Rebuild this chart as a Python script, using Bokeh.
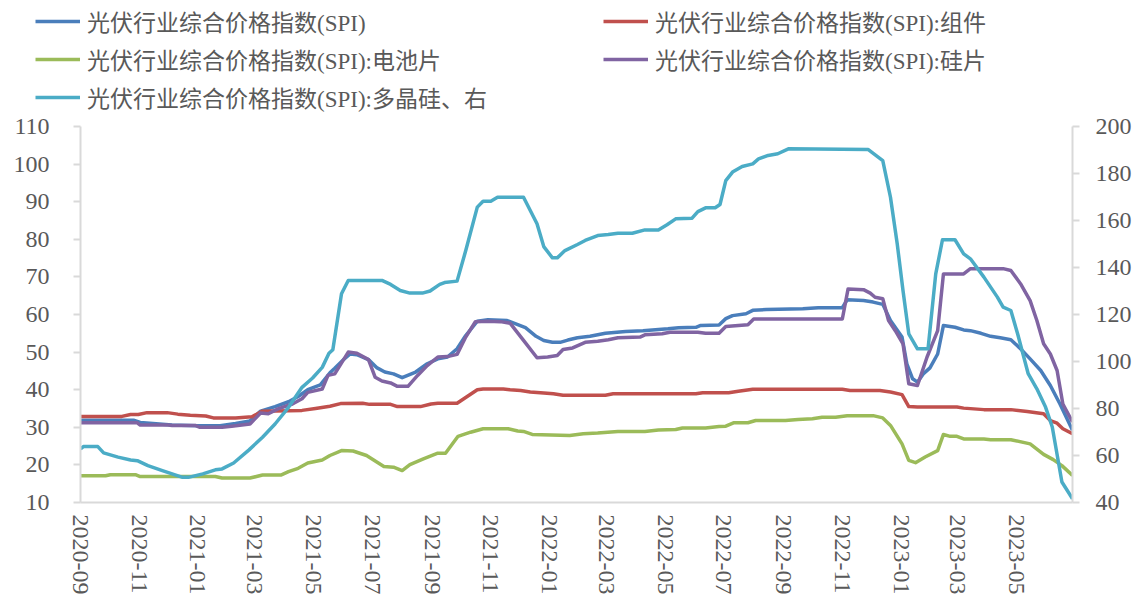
import pandas as pd
from bokeh.plotting import figure
from bokeh.layouts import column
from bokeh.models import (Range1d, LinearAxis, Legend, LegendItem, FixedTicker,
                          DatetimeTickFormatter, SingleIntervalTicker)
from bokeh.embed import file_html
from bokeh.resources import INLINE

# ---------------- data ----------------
spi_dates = ["2020-09-01","2020-10-26","2020-11-02","2020-12-05","2021-01-01","2021-01-24","2021-02-09",
             "2021-02-24","2021-03-07","2021-03-22","2021-04-05","2021-04-15","2021-04-25","2021-05-08",
             "2021-05-18","2021-05-23","2021-06-01","2021-06-08","2021-06-15","2021-06-27","2021-07-06",
             "2021-07-14","2021-07-23","2021-08-01","2021-08-15","2021-08-27","2021-09-07","2021-09-17",
             "2021-09-27","2021-10-06","2021-10-18","2021-10-29","2021-11-18","2021-11-27","2021-12-07",
             "2021-12-18","2021-12-26","2022-01-04","2022-01-12","2022-01-20","2022-01-30","2022-02-12",
             "2022-02-28","2022-03-21","2022-04-08","2022-05-04","2022-05-15","2022-06-02","2022-06-07",
             "2022-06-26","2022-07-03","2022-07-10","2022-07-24","2022-07-31","2022-08-14","2022-09-21",
             "2022-10-07","2022-11-01","2022-11-06","2022-11-23","2022-12-03","2022-12-13","2022-12-21",
             "2023-01-02","2023-01-07","2023-01-13","2023-01-18","2023-01-24","2023-01-31","2023-02-08",
             "2023-02-14","2023-02-26","2023-03-07","2023-03-14","2023-03-25","2023-04-04","2023-04-14",
             "2023-04-25","2023-05-05","2023-05-15","2023-05-26","2023-06-05","2023-06-15","2023-06-28"]
spi_vals = [31.9,31.9,31.3,30.6,30.4,30.4,31.0,
            31.7,34.3,35.5,36.8,38.2,40.0,41.3,
            44.5,45.7,48.0,49.5,49.3,48.0,45.8,
            44.7,44.2,43.2,44.7,46.9,48.2,48.7,
            50.9,54.4,58.2,58.6,58.4,57.5,56.5,
            54.2,53.1,52.6,52.6,53.2,53.8,54.2,
            55.0,55.5,55.7,56.2,56.5,56.6,57.1,
            57.2,58.9,59.7,60.2,61.1,61.3,61.5,
            61.8,61.8,63.9,63.7,63.3,62.7,58.4,
            54.0,46.9,42.9,42.0,44.2,45.8,49.5,
            57.1,56.6,55.9,55.7,55.0,54.2,53.8,
            53.3,50.9,48.2,45.1,41.1,36.2,29.2]

module_dates = ["2020-09-01","2020-10-14","2020-10-23","2020-10-31","2020-11-09","2020-11-30","2020-12-11",
                "2020-12-24","2021-01-09","2021-01-17","2021-02-09","2021-02-26","2021-03-09","2021-04-19",
                "2021-05-03","2021-05-18","2021-05-29","2021-06-21","2021-06-28","2021-07-20","2021-07-27",
                "2021-08-20","2021-08-31","2021-09-07","2021-09-27","2021-10-18","2021-10-24","2021-11-14",
                "2021-11-21","2021-12-02","2021-12-12","2021-12-26","2022-01-05","2022-01-15","2022-02-28",
                "2022-03-08","2022-06-02","2022-06-09","2022-07-06","2022-07-16","2022-07-31","2022-11-01",
                "2022-11-09","2022-12-10","2022-12-21","2023-01-02","2023-01-09","2023-01-18","2023-02-28",
                "2023-03-07","2023-03-28","2023-04-25","2023-05-12","2023-05-29","2023-06-05","2023-06-12",
                "2023-06-18","2023-06-28"]
module_vals = [32.9,32.9,33.4,33.4,33.9,33.9,33.5,
               33.2,33.0,32.5,32.5,32.8,34.3,34.5,
               35.0,35.6,36.3,36.4,36.1,36.1,35.5,
               35.5,36.2,36.4,36.4,40.0,40.2,40.2,
               40.0,39.8,39.4,39.1,38.9,38.5,38.5,
               38.9,38.9,39.2,39.2,39.6,40.1,40.1,
               39.8,39.8,39.4,38.7,35.5,35.4,35.4,
               35.1,34.7,34.7,34.2,33.6,31.8,31.1,
               29.6,28.3]

cell_dates = ["2020-09-01","2020-09-27","2020-10-02","2020-10-28","2020-11-02","2021-01-19","2021-01-26",
              "2021-02-24","2021-03-09","2021-03-28","2021-04-05","2021-04-15","2021-04-25","2021-05-10",
              "2021-05-18","2021-05-30","2021-06-11","2021-06-25","2021-07-13","2021-07-23","2021-08-01",
              "2021-08-09","2021-08-23","2021-09-07","2021-09-15","2021-09-28","2021-10-11","2021-10-24",
              "2021-11-19","2021-11-29","2021-12-05","2021-12-14","2022-01-22","2022-02-05","2022-02-20",
              "2022-03-13","2022-04-10","2022-04-24","2022-05-12","2022-05-19","2022-06-12","2022-06-26",
              "2022-07-03","2022-07-11","2022-07-26","2022-08-03","2022-09-03","2022-09-16","2022-10-01",
              "2022-10-11","2022-10-25","2022-11-06","2022-12-03","2022-12-13","2022-12-21","2023-01-02",
              "2023-01-09","2023-01-16","2023-01-26","2023-02-08","2023-02-14","2023-02-21","2023-02-28",
              "2023-03-07","2023-03-28","2023-04-04","2023-04-25","2023-05-15","2023-05-29","2023-06-08",
              "2023-06-17","2023-06-28"]
cell_vals = [17.1,17.1,17.4,17.4,16.9,16.9,16.5,
             16.5,17.3,17.3,18.2,19.1,20.5,21.3,
             22.5,23.8,23.7,22.5,19.6,19.4,18.5,
             20.1,21.6,23.1,23.1,27.6,28.7,29.6,
             29.6,29.0,28.9,28.1,27.8,28.3,28.5,
             28.9,28.9,29.3,29.4,29.8,29.8,30.2,
             30.3,31.2,31.2,31.8,31.8,32.1,32.3,
             32.7,32.7,33.1,33.1,32.5,30.5,25.6,
             21.2,20.6,22.1,23.8,28.1,27.6,27.6,
             26.9,26.9,26.7,26.7,25.6,22.8,21.4,
             19.8,17.2]

wafer_dates = ["2020-09-01","2020-10-30","2020-11-02","2020-12-01","2020-12-05","2020-12-29","2021-01-03",
               "2021-01-26","2021-02-05","2021-02-24","2021-03-07","2021-03-15","2021-03-25","2021-04-09",
               "2021-04-19","2021-04-25","2021-05-10","2021-05-16","2021-05-23","2021-06-06","2021-06-15",
               "2021-06-27","2021-07-04","2021-07-11","2021-07-20","2021-07-27","2021-08-07","2021-08-17",
               "2021-08-27","2021-09-07","2021-09-17","2021-09-27","2021-10-06","2021-10-16","2021-10-29",
               "2021-11-11","2021-11-21","2021-12-05","2021-12-19","2021-12-30","2022-01-09","2022-01-15",
               "2022-01-25","2022-02-07","2022-02-20","2022-03-03","2022-03-13","2022-04-05","2022-04-10",
               "2022-04-28","2022-05-06","2022-06-04","2022-06-12","2022-06-26","2022-07-03","2022-07-26",
               "2022-08-01","2022-11-01","2022-11-07","2022-11-23","2022-11-30","2022-12-05","2022-12-13",
               "2022-12-19","2022-12-26","2023-01-03","2023-01-09","2023-01-18","2023-01-28","2023-02-08",
               "2023-02-14","2023-03-07","2023-03-14","2023-04-17","2023-04-25","2023-05-05","2023-05-15",
               "2023-05-22","2023-05-29","2023-06-05","2023-06-12","2023-06-18","2023-06-28"]
wafer_vals = [31.2,31.2,30.6,30.6,30.5,30.5,30.0,
              30.0,30.3,30.9,33.8,33.6,34.9,36.2,
              37.6,39.3,40.2,43.8,44.2,50.0,49.7,
              48.0,43.3,42.3,41.8,40.9,40.9,43.8,
              46.4,48.7,48.8,49.4,54.0,58.1,58.2,
              58.1,57.7,53.1,48.5,48.7,49.1,50.7,
              51.1,52.6,52.9,53.3,53.8,54.0,54.6,
              54.9,55.3,55.3,55.0,55.0,56.8,57.3,
              58.8,58.8,66.8,66.6,65.7,64.6,64.2,
              58.4,55.7,52.2,41.6,41.1,48.7,55.7,
              70.8,70.8,72.2,72.2,71.7,68.2,63.7,
              58.4,52.2,49.5,45.1,36.2,31.4]

poly_dates = ["2020-09-01","2020-09-04","2020-09-19","2020-09-25","2020-10-10","2020-10-23","2020-10-30",
              "2020-11-10","2020-11-25","2020-12-16","2020-12-22","2021-01-06","2021-01-19","2021-01-26",
              "2021-02-07","2021-02-23","2021-03-09","2021-03-22","2021-04-05","2021-04-19","2021-04-30",
              "2021-05-10","2021-05-17","2021-05-21","2021-05-30","2021-06-06","2021-07-11","2021-07-20",
              "2021-07-30","2021-08-09","2021-08-22","2021-08-30","2021-09-09","2021-09-14","2021-09-27",
              "2021-10-06","2021-10-18","2021-10-24","2021-11-01","2021-11-08","2021-12-05","2021-12-19",
              "2021-12-26","2022-01-04","2022-01-09","2022-01-17","2022-01-30","2022-02-07","2022-02-20",
              "2022-03-03","2022-03-13","2022-03-28","2022-04-10","2022-04-24","2022-05-03","2022-05-12",
              "2022-05-29","2022-06-04","2022-06-12","2022-06-22","2022-06-27","2022-07-03","2022-07-10",
              "2022-07-20","2022-07-31","2022-08-06","2022-08-16","2022-08-26","2022-09-06","2022-11-28",
              "2022-12-13","2022-12-21","2022-12-28","2023-01-03","2023-01-09","2023-01-18","2023-01-29",
              "2023-02-06","2023-02-13","2023-02-26","2023-03-07","2023-03-14","2023-03-28","2023-04-11",
              "2023-04-17","2023-04-25","2023-05-02","2023-05-13","2023-05-22","2023-05-31","2023-06-07",
              "2023-06-17","2023-06-28"]
poly_vals = [62.8,63.8,63.8,61.1,59.3,58.1,57.8,
             55.7,53.6,50.7,50.7,52.2,53.9,54.3,
             56.8,62.4,67.8,73.4,80.5,89.0,93.0,
             97.5,103.5,105.0,128.8,134.5,134.5,132.8,
             130.2,129.1,129.1,130.0,132.8,133.6,134.2,
             147.2,165.7,168.2,168.2,169.9,169.9,158.6,
             148.9,144.1,144.1,147.2,149.8,151.5,153.6,
             154.0,154.6,154.6,156.0,156.0,158.2,160.7,
             161.0,163.8,165.4,165.4,166.8,177.0,180.6,
             183.0,184.1,186.2,187.7,188.4,190.5,190.2,
             185.5,169.9,150.1,130.2,111.8,105.4,105.4,
             137.3,151.8,151.8,145.8,143.7,135.9,127.4,
             123.1,121.7,111.8,94.8,88.4,80.6,72.1,
             48.7,41.6]

tick_labels = ["2020-09","2020-11","2021-01","2021-03","2021-05","2021-07","2021-09","2021-11",
               "2022-01","2022-03","2022-05","2022-07","2022-09","2022-11","2023-01","2023-03","2023-05"]

names = ["光伏行业综合价格指数(SPI)", "光伏行业综合价格指数(SPI):组件", "光伏行业综合价格指数(SPI):电池片",
         "光伏行业综合价格指数(SPI):硅片", "光伏行业综合价格指数(SPI):多晶硅、右"]
colors = ["#4A7EBB", "#C0504D", "#9BBB59", "#8064A2", "#4BACC6"]

# ---------------- styles ----------------
GREY = "#595959"
AXIS = "#D9D9D9"
NUM_FONT = "Liberation Serif"
LEG_FONT = "Liberation Serif, Noto Sans CJK SC"
LW = 3.5
LEG_H = 113

# ---------------- chart ----------------
p = figure(width=1135, height=601 - LEG_H, x_axis_type="datetime", output_backend="svg",
           toolbar_location=None,
           x_range=Range1d(pd.Timestamp("2020-09-01"), pd.Timestamp("2023-06-28")),
           y_range=Range1d(10, 110),
           min_border_left=80, min_border_right=63, min_border_top=126 - LEG_H, min_border_bottom=99)
p.extra_y_ranges = {"right": Range1d(40, 200)}
p.outline_line_color = None
p.xgrid.visible = False
p.ygrid.visible = False

series = [(spi_dates, spi_vals, "default"), (module_dates, module_vals, "default"),
          (cell_dates, cell_vals, "default"), (wafer_dates, wafer_vals, "default"),
          (poly_dates, poly_vals, "right")]
for (d, v, rng), c in zip(series, colors):
    p.line(pd.to_datetime(d), v, line_color=c, line_width=LW, line_join="round", y_range_name=rng)

xa = p.xaxis[0]
xa.ticker = FixedTicker(ticks=[pd.Timestamp(t + "-01").timestamp() * 1000 for t in tick_labels])
xa.formatter = DatetimeTickFormatter(days="%Y-%m", months="%Y-%m", years="%Y-%m")
xa.major_label_orientation = "vertical"
xa.major_label_text_font = NUM_FONT
xa.major_label_text_font_size = "24px"
xa.major_label_text_color = GREY
xa.major_label_standoff = 12
xa.major_tick_out = 0
xa.major_tick_in = 0
xa.minor_tick_out = 0
xa.minor_tick_in = 0
xa.axis_line_color = AXIS
xa.axis_line_width = 2

ya = p.yaxis[0]
ya.ticker = SingleIntervalTicker(interval=10)
ra = LinearAxis(y_range_name="right", ticker=SingleIntervalTicker(interval=20))
p.add_layout(ra, "right")
for ax, so in ((ya, 24), (ra, 16)):
    ax.major_label_text_font = NUM_FONT
    ax.major_label_text_font_size = "24px"
    ax.major_label_text_color = GREY
    ax.major_label_standoff = so
    ax.major_tick_out = 7
    ax.major_tick_in = 0
    ax.minor_tick_out = 0
    ax.minor_tick_in = 0
    ax.axis_line_color = AXIS
    ax.axis_line_width = 2
    ax.major_tick_line_color = AXIS
    ax.major_tick_line_width = 2

# ---------------- legend strip above the chart ----------------
lf = figure(width=1135, height=LEG_H, output_backend="svg", toolbar_location=None,
            x_axis_location=None, y_axis_location=None, min_border=0,
            x_range=Range1d(0, 1), y_range=Range1d(0, 1))
lf.frame_align = False
lf.outline_line_color = None
lf.xgrid.visible = False
lf.ygrid.visible = False
nan = float("nan")
swatches = [lf.line(x=[nan], y=[nan], line_color=c, line_width=LW) for c in colors]

def make_legend(idx, loc):
    return Legend(items=[LegendItem(label=names[i], renderers=[swatches[i]]) for i in idx],
                  location=loc, orientation="vertical",
                  padding=0, margin=0, spacing=4,
                  glyph_width=45, glyph_height=34, label_height=34, label_standoff=7,
                  label_text_font=LEG_FONT, label_text_font_size="23px",
                  label_text_color=GREY, border_line_color=None,
                  background_fill_alpha=0)

lf.add_layout(make_legend([0, 2, 4], (35, -1)), "center")
lf.add_layout(make_legend([1, 3], (603, 37)), "center")

layout = column(lf, p, spacing=0)
open("out.html", "w").write(file_html(layout, INLINE))
